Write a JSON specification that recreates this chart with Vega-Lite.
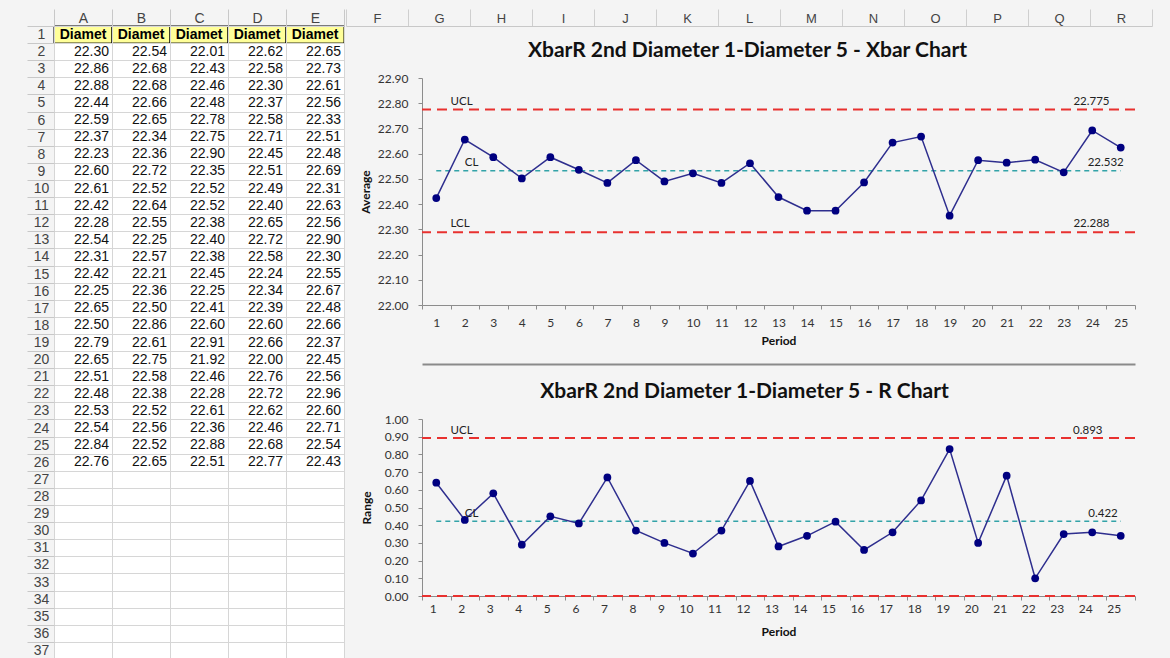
{
  "$schema": "https://vega.github.io/schema/vega-lite/v6.json",
  "background": "#f4f4f4",
  "padding": {"left": 0, "top": 8, "right": 0, "bottom": 0},
  "spacing": 0,
  "config": {
    "view": {"stroke": null},
    "axis": {"labelFont": "Lato", "labelFontSize": 12, "labelColor": "#333333", "titleFont": "Lato", "titleFontSize": 12,
             "titleFontWeight": "bold", "titleColor": "#111111", "tickColor": "#8c8c8c", "domainColor": "#8c8c8c"}
  },
  "datasets": {
    "sheet": [
      {"row": 2, "A": 22.30, "B": 22.54, "C": 22.01, "D": 22.62, "E": 22.65},
      {"row": 3, "A": 22.86, "B": 22.68, "C": 22.43, "D": 22.58, "E": 22.73},
      {"row": 4, "A": 22.88, "B": 22.68, "C": 22.46, "D": 22.30, "E": 22.61},
      {"row": 5, "A": 22.44, "B": 22.66, "C": 22.48, "D": 22.37, "E": 22.56},
      {"row": 6, "A": 22.59, "B": 22.65, "C": 22.78, "D": 22.58, "E": 22.33},
      {"row": 7, "A": 22.37, "B": 22.34, "C": 22.75, "D": 22.71, "E": 22.51},
      {"row": 8, "A": 22.23, "B": 22.36, "C": 22.90, "D": 22.45, "E": 22.48},
      {"row": 9, "A": 22.60, "B": 22.72, "C": 22.35, "D": 22.51, "E": 22.69},
      {"row": 10, "A": 22.61, "B": 22.52, "C": 22.52, "D": 22.49, "E": 22.31},
      {"row": 11, "A": 22.42, "B": 22.64, "C": 22.52, "D": 22.40, "E": 22.63},
      {"row": 12, "A": 22.28, "B": 22.55, "C": 22.38, "D": 22.65, "E": 22.56},
      {"row": 13, "A": 22.54, "B": 22.25, "C": 22.40, "D": 22.72, "E": 22.90},
      {"row": 14, "A": 22.31, "B": 22.57, "C": 22.38, "D": 22.58, "E": 22.30},
      {"row": 15, "A": 22.42, "B": 22.21, "C": 22.45, "D": 22.24, "E": 22.55},
      {"row": 16, "A": 22.25, "B": 22.36, "C": 22.25, "D": 22.34, "E": 22.67},
      {"row": 17, "A": 22.65, "B": 22.50, "C": 22.41, "D": 22.39, "E": 22.48},
      {"row": 18, "A": 22.50, "B": 22.86, "C": 22.60, "D": 22.60, "E": 22.66},
      {"row": 19, "A": 22.79, "B": 22.61, "C": 22.91, "D": 22.66, "E": 22.37},
      {"row": 20, "A": 22.65, "B": 22.75, "C": 21.92, "D": 22.00, "E": 22.45},
      {"row": 21, "A": 22.51, "B": 22.58, "C": 22.46, "D": 22.76, "E": 22.56},
      {"row": 22, "A": 22.48, "B": 22.38, "C": 22.28, "D": 22.72, "E": 22.96},
      {"row": 23, "A": 22.53, "B": 22.52, "C": 22.61, "D": 22.62, "E": 22.60},
      {"row": 24, "A": 22.54, "B": 22.56, "C": 22.36, "D": 22.46, "E": 22.71},
      {"row": 25, "A": 22.84, "B": 22.52, "C": 22.88, "D": 22.68, "E": 22.54},
      {"row": 26, "A": 22.76, "B": 22.65, "C": 22.51, "D": 22.77, "E": 22.43}
    ],
    "hdr": [
      {"col": "A", "label": "Diamet"},
      {"col": "B", "label": "Diamet"},
      {"col": "C", "label": "Diamet"},
      {"col": "D", "label": "Diamet"},
      {"col": "E", "label": "Diamet"}
    ],
    "cols": [
      {"col": "F"}, {"col": "G"}, {"col": "H"}, {"col": "I"}, {"col": "J"}, {"col": "K"}, {"col": "L"},
      {"col": "M"}, {"col": "N"}, {"col": "O"}, {"col": "P"}, {"col": "Q"}, {"col": "R"}
    ],
    "chart": [
      {"period": 1, "xbar": 22.424, "range": 0.64},
      {"period": 2, "xbar": 22.656, "range": 0.43},
      {"period": 3, "xbar": 22.586, "range": 0.58},
      {"period": 4, "xbar": 22.502, "range": 0.29},
      {"period": 5, "xbar": 22.586, "range": 0.45},
      {"period": 6, "xbar": 22.536, "range": 0.41},
      {"period": 7, "xbar": 22.484, "range": 0.67},
      {"period": 8, "xbar": 22.574, "range": 0.37},
      {"period": 9, "xbar": 22.490, "range": 0.30},
      {"period": 10, "xbar": 22.522, "range": 0.24},
      {"period": 11, "xbar": 22.484, "range": 0.37},
      {"period": 12, "xbar": 22.562, "range": 0.65},
      {"period": 13, "xbar": 22.428, "range": 0.28},
      {"period": 14, "xbar": 22.374, "range": 0.34},
      {"period": 15, "xbar": 22.374, "range": 0.42},
      {"period": 16, "xbar": 22.486, "range": 0.26},
      {"period": 17, "xbar": 22.644, "range": 0.36},
      {"period": 18, "xbar": 22.668, "range": 0.54},
      {"period": 19, "xbar": 22.354, "range": 0.83},
      {"period": 20, "xbar": 22.574, "range": 0.30},
      {"period": 21, "xbar": 22.564, "range": 0.68},
      {"period": 22, "xbar": 22.576, "range": 0.10},
      {"period": 23, "xbar": 22.526, "range": 0.35},
      {"period": 24, "xbar": 22.692, "range": 0.36},
      {"period": 25, "xbar": 22.624, "range": 0.34}
    ],
    "limX": [
      {"name": "UCL", "value": 22.775},
      {"name": "CL", "value": 22.532},
      {"name": "LCL", "value": 22.288}
    ],
    "limR": [
      {"name": "UCL", "value": 0.893},
      {"name": "CL", "value": 0.422},
      {"name": "LCL", "value": 0}
    ]
  },
  "hconcat": [
    {
      "width": 290,
      "height": 633,
      "view": {"fill": "#ffffff", "stroke": "#a6a6a6"},
      "layer": [
        {
          "data": {"name": "hdr"},
          "mark": {"type": "rect", "fill": "#ffff99", "stroke": "#000000", "strokeWidth": 1},
          "encoding": {
            "x": {
              "field": "col", "type": "nominal",
              "scale": {"domain": ["A", "B", "C", "D", "E"], "paddingInner": 0, "paddingOuter": 0},
              "axis": {"orient": "top", "title": null, "labelAngle": 0, "tickBand": "extent", "tickSize": 17, "tickColor": "#c8c8c8",
                       "labelPadding": -9, "labelBaseline": "middle", "labelFont": "Liberation Sans", "labelFontSize": 14,
                       "labelColor": "#444444", "domain": false, "grid": true, "gridColor": "#d6d6d6", "minExtent": 17, "maxExtent": 17}
            },
            "y": {
              "datum": 1, "type": "ordinal",
              "scale": {"domain": [1,2,3,4,5,6,7,8,9,10,11,12,13,14,15,16,17,18,19,20,21,22,23,24,25,26,27,28,29,30,31,32,33,34,35,36,37], "paddingInner": 0, "paddingOuter": 0},
              "axis": {"title": null, "tickBand": "extent", "tickSize": 27, "tickColor": "#c8c8c8", "labelPadding": -14,
                       "labelAlign": "center", "labelBaseline": "middle", "labelFont": "Liberation Sans", "labelFontSize": 14,
                       "labelColor": "#444444", "domain": false, "grid": true, "gridColor": "#d6d6d6", "minExtent": 53, "maxExtent": 53}
            }
          }
        },
        {
          "data": {"name": "hdr"},
          "mark": {"type": "text", "font": "Liberation Sans", "fontSize": 14, "fontWeight": "bold", "color": "#000000"},
          "encoding": {
            "x": {"field": "col", "type": "nominal", "bandPosition": 0.5},
            "y": {"datum": 1, "type": "ordinal", "bandPosition": 0.5},
            "text": {"field": "label"}
          }
        },
        {
          "data": {"name": "sheet"},
          "transform": [{"fold": ["A", "B", "C", "D", "E"], "as": ["col", "val"]}],
          "mark": {"type": "text", "align": "right", "dx": -3, "font": "Liberation Sans", "fontSize": 14, "color": "#111111"},
          "encoding": {
            "x": {"field": "col", "type": "nominal", "bandPosition": 1},
            "y": {"field": "row", "type": "ordinal", "bandPosition": 0.5},
            "text": {"field": "val", "type": "quantitative", "format": ".2f"}
          }
        }
      ]
    },
    {
      "spacing": 13,
      "vconcat": [
        {
          "data": {"name": "cols"},
          "width": 713,
          "height": 1,
          "mark": {"type": "rect", "opacity": 0},
          "encoding": {
            "x": {
              "field": "col", "type": "nominal",
              "scale": {"range": [-76, 730], "paddingInner": 0, "paddingOuter": 0},
              "axis": {"orient": "top", "title": null, "labelAngle": 0, "tickBand": "extent", "tickSize": 17, "tickColor": "#cfcfcf",
                       "labelPadding": -9, "labelBaseline": "middle", "labelFont": "Liberation Sans", "labelFontSize": 13,
                       "labelColor": "#444444", "domain": true, "domainColor": "#c8c8c8", "grid": false, "minExtent": 17, "maxExtent": 17}
            }
          }
        },
        {
          "spacing": 17,
          "vconcat": [
            {
              "width": 713,
              "height": 227,
              "title": {"text": "XbarR 2nd Diameter 1-Diameter 5 - Xbar Chart", "font": "Lato", "fontSize": 21, "fontWeight": "bold",
                        "color": "#111111", "anchor": "middle", "offset": -6, "baseline": "alphabetic", "dx": -31},
              "resolve": {"axis": {"x": "independent"}},
              "layer": [
                {
                  "data": {"name": "limX"},
                  "transform": [{"filter": {"field": "name", "oneOf": ["UCL", "LCL"]}}],
                  "mark": {"type": "rule", "color": "#e8312f", "strokeWidth": 2, "strokeDash": [10, 6]},
                  "encoding": {
                    "y": {"field": "value", "type": "quantitative", "scale": {"domain": [22, 22.9], "nice": false, "zero": false},
                          "axis": {"values": [22, 22.1, 22.2, 22.3, 22.4, 22.5, 22.6, 22.7, 22.8, 22.9], "format": ".2f", "labelOverlap": false, "title": "Average",
                                   "titleX": -57, "titleY": 113.5, "titleAngle": -90, "titleBaseline": "middle", "titleAlign": "center",
                                   "tickSize": 4, "labelPadding": 10, "minExtent": 76, "maxExtent": 76, "grid": false}}
                  }
                },
                {
                  "data": {"name": "chart"},
                  "mark": {"type": "line", "color": "#33a3a8", "strokeWidth": 1.5, "strokeDash": [5, 4]},
                  "encoding": {
                    "x": {"field": "period", "type": "ordinal", "bandPosition": 0.5,
                          "axis": {"orient": "bottom", "offset": 59, "labels": false, "ticks": false, "title": null, "grid": false,
                                   "domainColor": "#8a8a8a", "domainWidth": 2}},
                    "y": {"datum": 22.532, "type": "quantitative",
                          "axis": {"values": [22, 22.1, 22.2, 22.3, 22.4, 22.5, 22.6, 22.7, 22.8, 22.9], "format": ".2f", "labelOverlap": false, "title": "Average",
                                   "titleX": -57, "titleY": 113.5, "titleAngle": -90, "titleBaseline": "middle", "titleAlign": "center",
                                   "tickSize": 4, "labelPadding": 10, "minExtent": 76, "maxExtent": 76, "grid": false}}
                  }
                },
                {
                  "data": {"name": "chart"},
                  "mark": {"type": "line", "color": "#2e2e8e", "strokeWidth": 1.5,
                           "point": {"filled": true, "size": 60, "color": "#000080", "opacity": 1}},
                  "encoding": {
                    "x": {
                      "field": "period", "type": "ordinal", "bandPosition": 0.5,
                      "scale": {"type": "band", "domain": [1,2,3,4,5,6,7,8,9,10,11,12,13,14,15,16,17,18,19,20,21,22,23,24,25], "paddingInner": 0, "paddingOuter": 0},
                      "axis": {"orient": "bottom", "title": "Period", "labelAngle": 0, "tickBand": "extent", "tickSize": 4,
                               "labelPadding": 8, "titlePadding": 8, "minExtent": 22, "maxExtent": 22, "grid": false}
                    },
                    "y": {
                      "field": "xbar", "type": "quantitative",
                      "scale": {"domain": [22, 22.9], "nice": false, "zero": false},
                      "axis": {"values": [22, 22.1, 22.2, 22.3, 22.4, 22.5, 22.6, 22.7, 22.8, 22.9], "format": ".2f", "labelOverlap": false, "title": "Average",
                               "titleX": -57, "titleY": 113.5, "titleAngle": -90, "titleBaseline": "middle", "titleAlign": "center",
                               "tickSize": 4, "labelPadding": 10, "minExtent": 76, "maxExtent": 76, "grid": false}
                    }
                  }
                },
                {
                  "data": {"name": "limX"},
                  "transform": [{"filter": {"field": "name", "oneOf": ["UCL", "LCL"]}}],
                  "mark": {"type": "text", "align": "left", "baseline": "bottom", "dy": -3, "font": "Lato", "fontSize": 11.5, "color": "#222222"},
                  "encoding": {
                    "x": {"datum": 2, "type": "ordinal", "bandPosition": 0, "axis": null},
                    "y": {"field": "value", "type": "quantitative",
                          "axis": {"values": [22, 22.1, 22.2, 22.3, 22.4, 22.5, 22.6, 22.7, 22.8, 22.9], "format": ".2f", "labelOverlap": false, "title": "Average",
                                   "titleX": -57, "titleY": 113.5, "titleAngle": -90, "titleBaseline": "middle", "titleAlign": "center",
                                   "tickSize": 4, "labelPadding": 10, "minExtent": 76, "maxExtent": 76, "grid": false}},
                    "text": {"field": "name"}
                  }
                },
                {
                  "data": {"name": "limX"},
                  "transform": [{"filter": {"field": "name", "equal": "CL"}}],
                  "mark": {"type": "text", "align": "left", "baseline": "bottom", "dy": -3, "font": "Lato", "fontSize": 11.5, "color": "#222222"},
                  "encoding": {
                    "x": {"datum": 2, "type": "ordinal", "bandPosition": 0.5, "axis": null},
                    "y": {"field": "value", "type": "quantitative",
                          "axis": {"values": [22, 22.1, 22.2, 22.3, 22.4, 22.5, 22.6, 22.7, 22.8, 22.9], "format": ".2f", "labelOverlap": false, "title": "Average",
                                   "titleX": -57, "titleY": 113.5, "titleAngle": -90, "titleBaseline": "middle", "titleAlign": "center",
                                   "tickSize": 4, "labelPadding": 10, "minExtent": 76, "maxExtent": 76, "grid": false}},
                    "text": {"field": "name"}
                  }
                },
                {
                  "data": {"name": "limX"},
                  "transform": [{"filter": {"field": "name", "oneOf": ["UCL", "LCL"]}}],
                  "mark": {"type": "text", "align": "right", "baseline": "bottom", "dy": -3, "dx": 3, "font": "Lato", "fontSize": 11.5, "color": "#222222"},
                  "encoding": {
                    "x": {"datum": 25, "type": "ordinal", "bandPosition": 0, "axis": null},
                    "y": {"field": "value", "type": "quantitative",
                          "axis": {"values": [22, 22.1, 22.2, 22.3, 22.4, 22.5, 22.6, 22.7, 22.8, 22.9], "format": ".2f", "labelOverlap": false, "title": "Average",
                                   "titleX": -57, "titleY": 113.5, "titleAngle": -90, "titleBaseline": "middle", "titleAlign": "center",
                                   "tickSize": 4, "labelPadding": 10, "minExtent": 76, "maxExtent": 76, "grid": false}},
                    "text": {"field": "value", "type": "quantitative", "format": ".3f"}
                  }
                },
                {
                  "data": {"name": "limX"},
                  "transform": [{"filter": {"field": "name", "equal": "CL"}}],
                  "mark": {"type": "text", "align": "right", "baseline": "bottom", "dy": -3, "dx": 3, "font": "Lato", "fontSize": 11.5, "color": "#222222"},
                  "encoding": {
                    "x": {"datum": 25, "type": "ordinal", "bandPosition": 0.5, "axis": null},
                    "y": {"field": "value", "type": "quantitative",
                          "axis": {"values": [22, 22.1, 22.2, 22.3, 22.4, 22.5, 22.6, 22.7, 22.8, 22.9], "format": ".2f", "labelOverlap": false, "title": "Average",
                                   "titleX": -57, "titleY": 113.5, "titleAngle": -90, "titleBaseline": "middle", "titleAlign": "center",
                                   "tickSize": 4, "labelPadding": 10, "minExtent": 76, "maxExtent": 76, "grid": false}},
                    "text": {"field": "value", "type": "quantitative", "format": ".3f"}
                  }
                }
              ]
            },
            {
              "width": 713,
              "height": 177,
              "title": {"text": "XbarR 2nd Diameter 1-Diameter 5 - R Chart", "font": "Lato", "fontSize": 21, "fontWeight": "bold",
                        "color": "#111111", "anchor": "middle", "offset": -6, "baseline": "alphabetic", "dx": -34},
              "layer": [
                {
                  "data": {"name": "limR"},
                  "transform": [{"filter": {"field": "name", "oneOf": ["UCL", "LCL"]}}],
                  "mark": {"type": "rule", "color": "#e8312f", "strokeWidth": 2, "strokeDash": [10, 6]},
                  "encoding": {
                    "y": {"field": "value", "type": "quantitative", "scale": {"domain": [0, 1], "nice": false},
                          "axis": {"values": [0, 0.1, 0.2, 0.3, 0.4, 0.5, 0.6, 0.7, 0.8, 0.9, 1.0], "format": ".2f", "labelOverlap": false, "title": "Range",
                                   "titleX": -56, "titleY": 88.5, "titleAngle": -90, "titleBaseline": "middle", "titleAlign": "center",
                                   "tickSize": 4, "labelPadding": 10, "minExtent": 76, "maxExtent": 76, "grid": false}}
                  }
                },
                {
                  "data": {"name": "chart"},
                  "mark": {"type": "line", "color": "#33a3a8", "strokeWidth": 1.5, "strokeDash": [5, 4]},
                  "encoding": {
                    "x": {"field": "period", "type": "ordinal", "bandPosition": 0.5},
                    "y": {"datum": 0.422, "type": "quantitative",
                          "axis": {"values": [0, 0.1, 0.2, 0.3, 0.4, 0.5, 0.6, 0.7, 0.8, 0.9, 1.0], "format": ".2f", "labelOverlap": false, "title": "Range",
                                   "titleX": -56, "titleY": 88.5, "titleAngle": -90, "titleBaseline": "middle", "titleAlign": "center",
                                   "tickSize": 4, "labelPadding": 10, "minExtent": 76, "maxExtent": 76, "grid": false}}
                  }
                },
                {
                  "data": {"name": "chart"},
                  "mark": {"type": "line", "color": "#2e2e8e", "strokeWidth": 1.5,
                           "point": {"filled": true, "size": 60, "color": "#000080", "opacity": 1}},
                  "encoding": {
                    "x": {
                      "field": "period", "type": "ordinal", "bandPosition": 0.5,
                      "scale": {"type": "band", "domain": [1,2,3,4,5,6,7,8,9,10,11,12,13,14,15,16,17,18,19,20,21,22,23,24,25], "paddingInner": 0, "paddingOuter": 0},
                      "axis": {"title": "Period", "labelAngle": 0, "tickBand": "extent", "tickSize": 4,
                               "labelPadding": 8, "titlePadding": 8, "minExtent": 22, "maxExtent": 22, "grid": false}
                    },
                    "y": {
                      "field": "range", "type": "quantitative",
                      "scale": {"domain": [0, 1], "nice": false},
                      "axis": {"values": [0, 0.1, 0.2, 0.3, 0.4, 0.5, 0.6, 0.7, 0.8, 0.9, 1.0], "format": ".2f", "labelOverlap": false, "title": "Range",
                               "titleX": -56, "titleY": 88.5, "titleAngle": -90, "titleBaseline": "middle", "titleAlign": "center",
                               "tickSize": 4, "labelPadding": 10, "minExtent": 76, "maxExtent": 76, "grid": false}
                    }
                  }
                },
                {
                  "data": {"name": "limR"},
                  "transform": [{"filter": {"field": "name", "equal": "UCL"}}],
                  "mark": {"type": "text", "align": "left", "baseline": "bottom", "dy": -2, "font": "Lato", "fontSize": 11.5, "color": "#222222"},
                  "encoding": {
                    "x": {"datum": 2, "type": "ordinal", "bandPosition": 0},
                    "y": {"field": "value", "type": "quantitative",
                          "axis": {"values": [0, 0.1, 0.2, 0.3, 0.4, 0.5, 0.6, 0.7, 0.8, 0.9, 1.0], "format": ".2f", "labelOverlap": false, "title": "Range",
                                   "titleX": -56, "titleY": 88.5, "titleAngle": -90, "titleBaseline": "middle", "titleAlign": "center",
                                   "tickSize": 4, "labelPadding": 10, "minExtent": 76, "maxExtent": 76, "grid": false}},
                    "text": {"field": "name"}
                  }
                },
                {
                  "data": {"name": "limR"},
                  "transform": [{"filter": {"field": "name", "equal": "CL"}}],
                  "mark": {"type": "text", "align": "left", "baseline": "bottom", "dy": -2, "font": "Lato", "fontSize": 11.5, "color": "#222222"},
                  "encoding": {
                    "x": {"datum": 2, "type": "ordinal", "bandPosition": 0.5},
                    "y": {"field": "value", "type": "quantitative",
                          "axis": {"values": [0, 0.1, 0.2, 0.3, 0.4, 0.5, 0.6, 0.7, 0.8, 0.9, 1.0], "format": ".2f", "labelOverlap": false, "title": "Range",
                                   "titleX": -56, "titleY": 88.5, "titleAngle": -90, "titleBaseline": "middle", "titleAlign": "center",
                                   "tickSize": 4, "labelPadding": 10, "minExtent": 76, "maxExtent": 76, "grid": false}},
                    "text": {"field": "name"}
                  }
                },
                {
                  "data": {"name": "limR"},
                  "transform": [{"filter": {"field": "name", "equal": "UCL"}}],
                  "mark": {"type": "text", "align": "right", "baseline": "bottom", "dy": -2, "dx": -4, "font": "Lato", "fontSize": 11.5, "color": "#222222"},
                  "encoding": {
                    "x": {"datum": 25, "type": "ordinal", "bandPosition": 0},
                    "y": {"field": "value", "type": "quantitative",
                          "axis": {"values": [0, 0.1, 0.2, 0.3, 0.4, 0.5, 0.6, 0.7, 0.8, 0.9, 1.0], "format": ".2f", "labelOverlap": false, "title": "Range",
                                   "titleX": -56, "titleY": 88.5, "titleAngle": -90, "titleBaseline": "middle", "titleAlign": "center",
                                   "tickSize": 4, "labelPadding": 10, "minExtent": 76, "maxExtent": 76, "grid": false}},
                    "text": {"field": "value", "type": "quantitative", "format": ".3f"}
                  }
                },
                {
                  "data": {"name": "limR"},
                  "transform": [{"filter": {"field": "name", "equal": "CL"}}],
                  "mark": {"type": "text", "align": "right", "baseline": "bottom", "dy": -2, "dx": -3, "font": "Lato", "fontSize": 11.5, "color": "#222222"},
                  "encoding": {
                    "x": {"datum": 25, "type": "ordinal", "bandPosition": 0.5},
                    "y": {"field": "value", "type": "quantitative",
                          "axis": {"values": [0, 0.1, 0.2, 0.3, 0.4, 0.5, 0.6, 0.7, 0.8, 0.9, 1.0], "format": ".2f", "labelOverlap": false, "title": "Range",
                                   "titleX": -56, "titleY": 88.5, "titleAngle": -90, "titleBaseline": "middle", "titleAlign": "center",
                                   "tickSize": 4, "labelPadding": 10, "minExtent": 76, "maxExtent": 76, "grid": false}},
                    "text": {"field": "value", "type": "quantitative", "format": ".3f"}
                  }
                }
              ]
            }
          ]
        }
      ]
    }
  ]
}
